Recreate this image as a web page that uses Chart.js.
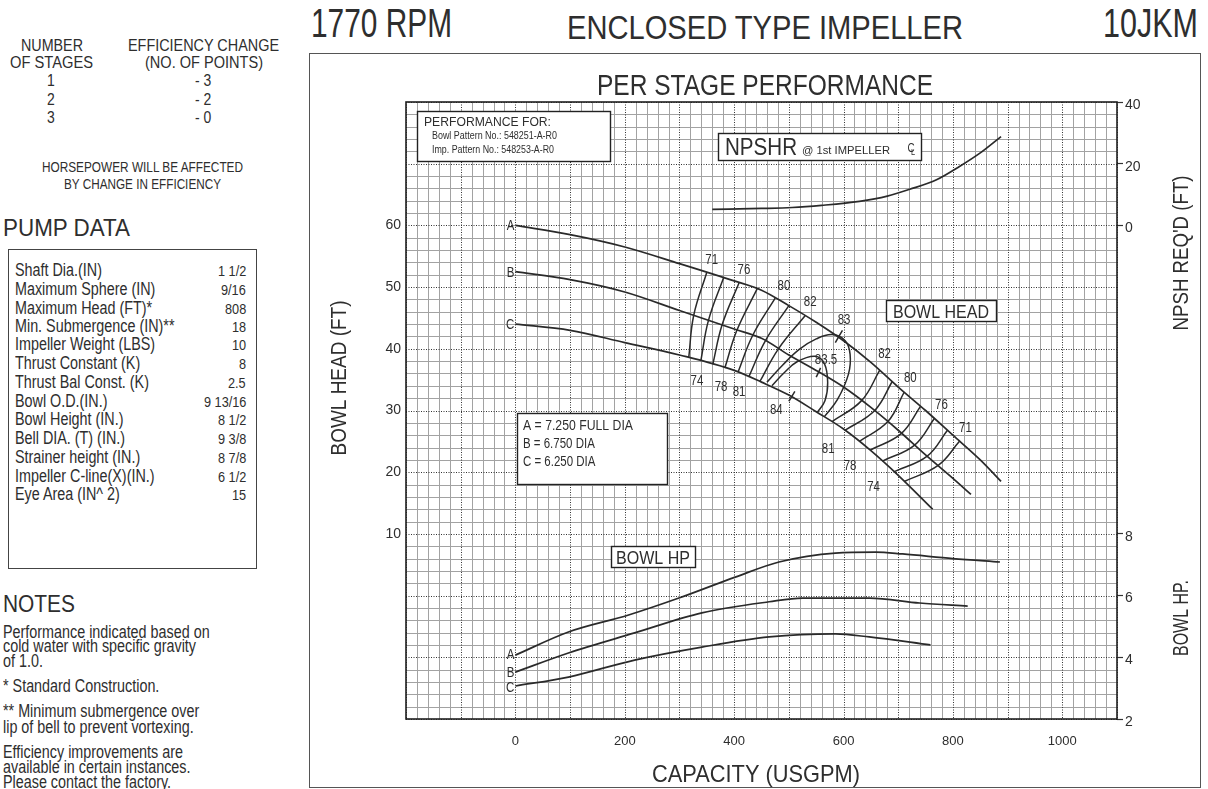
<!DOCTYPE html>
<html><head><meta charset="utf-8">
<script src="https://cdn.jsdelivr.net/npm/chart.js@4.4.1/dist/chart.umd.min.js"></script>
<style>
html,body{margin:0;padding:0;background:#fff;}
body{width:1208px;height:789px;overflow:hidden;position:relative;}
.t{position:absolute;white-space:nowrap;color:#2e2e2e;font-family:'Liberation Sans',Arial,sans-serif;line-height:1;transform-origin:0 50%;}
#frame{position:absolute;left:309px;top:53px;width:892px;height:735px;border:1.5px solid #555;box-sizing:border-box;}
#pbox{position:absolute;left:8px;top:249px;width:249px;height:320px;border:1.5px solid #444;box-sizing:border-box;}
#cv{position:absolute;left:309px;top:53px;}
</style></head><body>
<div id="frame"></div>
<div id="pbox"></div>

<div class="t" data-x="311" data-y="23" data-s="40" data-w="141">1770 RPM</div>
<div class="t" data-x="567" data-y="27" data-s="33" data-w="396">ENCLOSED TYPE IMPELLER</div>
<div class="t" data-x="1198" data-y="23" data-s="40" data-w="95" data-a="r">10JKM</div>

<div class="t" data-x="52" data-y="45" data-s="17" data-w="62" data-a="c">NUMBER</div>
<div class="t" data-x="51" data-y="62" data-s="17" data-w="83" data-a="c">OF STAGES</div>
<div class="t" data-x="203" data-y="45" data-s="17" data-w="151" data-a="c">EFFICIENCY CHANGE</div>
<div class="t" data-x="204" data-y="62" data-s="17" data-w="118" data-a="c">(NO. OF POINTS)</div>
<div class="t" data-x="51" data-y="80" data-s="17" data-a="c">1</div>
<div class="t" data-x="51" data-y="99" data-s="17" data-a="c">2</div>
<div class="t" data-x="51" data-y="117" data-s="17" data-a="c">3</div>
<div class="t" data-x="203" data-y="80" data-s="17" data-a="c">- 3</div>
<div class="t" data-x="203" data-y="99" data-s="17" data-a="c">- 2</div>
<div class="t" data-x="203" data-y="117" data-s="17" data-a="c">- 0</div>
<div class="t" data-x="142" data-y="167" data-s="14" data-w="201" data-a="c">HORSEPOWER WILL BE AFFECTED</div>
<div class="t" data-x="142" data-y="184" data-s="14" data-w="157" data-a="c">BY CHANGE IN EFFICIENCY</div>

<div class="t" data-x="3" data-y="228" data-s="23" data-w="127">PUMP DATA</div>
<div class="t" data-x="15" data-y="271" data-s="17.5">Shaft Dia.(IN)</div>
<div class="t" data-x="15" data-y="290" data-s="17.5">Maximum Sphere (IN)</div>
<div class="t" data-x="15" data-y="309" data-s="17.5">Maximum Head (FT)*</div>
<div class="t" data-x="15" data-y="327" data-s="17.5">Min. Submergence (IN)**</div>
<div class="t" data-x="15" data-y="345" data-s="17.5">Impeller Weight (LBS)</div>
<div class="t" data-x="15" data-y="364" data-s="17.5">Thrust Constant (K)</div>
<div class="t" data-x="15" data-y="383" data-s="17.5">Thrust Bal Const. (K)</div>
<div class="t" data-x="15" data-y="402" data-s="17.5">Bowl O.D.(IN.)</div>
<div class="t" data-x="15" data-y="420" data-s="17.5">Bowl Height (IN.)</div>
<div class="t" data-x="15" data-y="439" data-s="17.5">Bell DIA. (T) (IN.)</div>
<div class="t" data-x="15" data-y="458" data-s="17.5">Strainer height (IN.)</div>
<div class="t" data-x="15" data-y="477" data-s="17.5">Impeller C-line(X)(IN.)</div>
<div class="t" data-x="15" data-y="495" data-s="17.5">Eye Area (IN^ 2)</div>
<div class="t" data-x="246" data-y="271" data-s="15.5" data-a="r">1 1/2</div>
<div class="t" data-x="246" data-y="290" data-s="15.5" data-a="r">9/16</div>
<div class="t" data-x="246" data-y="309" data-s="15.5" data-a="r">808</div>
<div class="t" data-x="246" data-y="327" data-s="15.5" data-a="r">18</div>
<div class="t" data-x="246" data-y="345" data-s="15.5" data-a="r">10</div>
<div class="t" data-x="246" data-y="364" data-s="15.5" data-a="r">8</div>
<div class="t" data-x="246" data-y="383" data-s="15.5" data-a="r">2.5</div>
<div class="t" data-x="246" data-y="402" data-s="15.5" data-a="r">9 13/16</div>
<div class="t" data-x="246" data-y="420" data-s="15.5" data-a="r">8 1/2</div>
<div class="t" data-x="246" data-y="439" data-s="15.5" data-a="r">9 3/8</div>
<div class="t" data-x="246" data-y="458" data-s="15.5" data-a="r">8 7/8</div>
<div class="t" data-x="246" data-y="477" data-s="15.5" data-a="r">6 1/2</div>
<div class="t" data-x="246" data-y="495" data-s="15.5" data-a="r">15</div>

<div class="t" data-x="3" data-y="604" data-s="23" data-w="72">NOTES</div>
<div class="t" data-x="3" data-y="633" data-s="17.5">Performance indicated based on</div>
<div class="t" data-x="3" data-y="647" data-s="17.5">cold water with specific gravity</div>
<div class="t" data-x="3" data-y="662" data-s="17.5">of 1.0.</div>
<div class="t" data-x="3" data-y="687" data-s="17.5">* Standard Construction.</div>
<div class="t" data-x="3" data-y="712" data-s="17.5">** Minimum submergence over</div>
<div class="t" data-x="3" data-y="728" data-s="17.5">lip of bell to prevent vortexing.</div>
<div class="t" data-x="3" data-y="753" data-s="17.5">Efficiency improvements are</div>
<div class="t" data-x="3" data-y="768" data-s="17.5">available in certain instances.</div>
<div class="t" data-x="3" data-y="783" data-s="17.5">Please contact the factory.</div>

<canvas id="cv" width="891" height="736"></canvas>
<script>
// ---------------- data ----------------
const capTicks  = [0, 200, 400, 600, 800, 1000];
const headTicks = [10, 20, 30, 40, 50, 60];
const npshTicks = [0, 20, 40];
const hpTicks   = [2, 4, 6, 8];

const capA  = [0,100,200,300,400,450,500,550,600,650,700,750,800,850,888];
const headA = [60,58.5,56.5,53.8,51,49.5,47,44.3,41.3,37.8,33.8,30,26,22,18.5];
const capB  = [0,100,200,300,400,450,500,550,600,650,700,750,800,833];
const headB = [52.5,51.2,49.2,46.2,43.2,41.7,39,36.5,33.8,30.5,26.8,22.8,19,16.4];
const capC  = [0,100,200,300,400,450,500,550,600,650,700,763];
const headC = [44,43,41,39,36.5,34.6,32.5,29.8,27,23.5,19.5,14];

const capNpsh = [360,450,506,560,629,680,721,770,812,850,888];
const npshr   = [5.2,5.5,5.8,6.5,7.8,9.5,11.7,14.8,19.1,23.5,28.8];

const capHpA = [0,97,207,299,402,482,585,659,708,800,886];
const hpA    = [4.07,4.82,5.37,5.92,6.6,7.09,7.38,7.41,7.35,7.2,7.09];
const capHpB = [0,97,218,341,464,525,647,739,827];
const hpB    = [3.52,4.14,4.79,5.44,5.8,5.92,5.92,5.76,5.66];
const capHpC = [0,97,218,341,464,585,647,759];
const hpC    = [3.07,3.36,3.91,4.33,4.66,4.76,4.66,4.4];

// efficiency contours: [capacity, head] from curve A through B to C
const eff71L = [[350,52.4],[326,45.4],[317,38.6]];
const eff74L = [[381,51.6],[353,44.6],[339,38.0]];
const eff76L = [[409,50.7],[378,43.9],[361,37.5]];
const eff78L = [[442,49.7],[405,43.0],[383,36.9]];
const eff80L = [[475,48.2],[434,42.2],[407,36.2]];
const eff81L = [[500,47.0],[457,41.3],[427,35.5]];
const eff82L = [[530,45.4],[481,40.0],[447,34.7]];
const eff83  = [[460,34.6],[488,37.3],[519,39.9],[550,41.6],[579,42.3],[603,41.3],[612,39.1],[609,35.9],[589,31.8],[565,29.0]];
const eff835 = [[469,34.0],[490,36.0],[515,37.9],[548,38.8],[565,37.6],[571,34.5],[566,31.6],[552,29.7]];
const eff82R = [[666,36.5],[633,31.6],[579,28.2]];
const eff81R = [[689,34.7],[657,30.0],[603,26.8]];
const eff80R = [[711,33.0],[681,28.2],[629,25.0]];
const eff78R = [[741,30.7],[706,26.3],[649,23.6]];
const eff76R = [[766,28.7],[730,24.4],[671,21.8]];
const eff74R = [[790,26.8],[753,22.6],[693,20.1]];
const eff71R = [[812,25.0],[773,21.1],[711,18.5]];
const effTick83  = [[585,41.0],[598,43.0]];
const effTick835 = [[550,35.4],[558,36.9]];
const effTick84  = [[500,31.5],[511,33.1]];

const effLabelText = ['71','76','80','82','83','74','78','81','84','83.5','82','80','76','71','81','78','74'];
const effLabelCap  = [359,418,491,539,601,332,376,409,477,568,675,722,779,823,572,612,655];
const effLabelHead = [54.5,52.9,50.4,47.7,44.8,34.9,33.9,33.1,30.2,38.3,39.4,35.5,31.0,27.3,24.0,21.1,17.7];

// axis ranges (shared pixel frame)
const capRange  = [-200, 1100];
const headRange = [-20, 80];
const npshRange = [-160, 40];
const hpRange   = [2, 22];

// ---------------- page text fitting (condensed type emulation) ----------------
const NARROW = 0.82;
document.querySelectorAll('.t').forEach(el => {
  const s = +el.dataset.s; el.style.fontSize = s + 'px';
  const w0 = el.getBoundingClientRect().width;
  const w = el.dataset.w ? +el.dataset.w : w0 * NARROW;
  const k = w / w0, a = el.dataset.a || 'l';
  const x = +el.dataset.x, y = +el.dataset.y;
  el.style.left = (a === 'c' ? x - w / 2 : a === 'r' ? x - w : x) + 'px';
  el.style.top = (y - s / 2) + 'px';
  el.style.transform = 'scaleX(' + k + ')';
});

// ---------------- chart ----------------
const OX = 309, OY = 53;
const FN = "'Liberation Sans',Arial,sans-serif";
const INK = '#2e2e2e';
const LINE = '#2a2a2a';

function fitText(ctx, txt, x, cy, size, w, align, family) {
  ctx.save();
  ctx.font = size + 'px ' + (family || FN);
  ctx.fillStyle = INK; ctx.textAlign = 'left'; ctx.textBaseline = 'alphabetic';
  const mw = ctx.measureText(txt).width;
  const k = w ? w / mw : NARROW, tw = mw * k;
  const left = align === 'center' ? x - tw / 2 : align === 'right' ? x - tw : x;
  ctx.translate(left, cy + 0.36 * size); ctx.scale(k, 1);
  ctx.fillText(txt, 0, 0);
  ctx.restore();
}
function vText(ctx, txt, cx, cy, size, w) {
  ctx.save(); ctx.translate(cx, cy); ctx.rotate(-Math.PI / 2);
  fitText(ctx, txt, 0, 0, size, w, 'center'); ctx.restore();
}
function box(ctx, x1, y1, x2, y2) {
  ctx.save(); ctx.fillStyle = '#fff'; ctx.fillRect(x1, y1, x2 - x1, y2 - y1);
  ctx.strokeStyle = '#222'; ctx.lineWidth = 1.4; ctx.strokeRect(x1 + .5, y1 + .5, x2 - x1, y2 - y1); ctx.restore();
}

const paperPlugin = {
  id: 'paper',
  beforeDatasetsDraw(chart) {
    const { ctx, chartArea: a } = chart;
    const x = chart.scales.x, y = chart.scales.y;
    ctx.save();
    ctx.fillStyle = '#fff'; ctx.fillRect(a.left, a.top, a.right - a.left, a.bottom - a.top);
    ctx.lineWidth = 1; ctx.strokeStyle = '#a2a2a2';
    ctx.beginPath();
    for (let q = x.min; q <= x.max + 1e-6; q += 20) {
      if (q % 100 === 0) continue;
      const px = Math.round(x.getPixelForValue(q)) + .5; ctx.moveTo(px, a.top); ctx.lineTo(px, a.bottom);
    }
    for (let h = y.min; h <= y.max + 1e-6; h += 2) {
      if (h % 10 === 0) continue;
      const py = Math.round(y.getPixelForValue(h)) + .5; ctx.moveTo(a.left, py); ctx.lineTo(a.right, py);
    }
    ctx.stroke();
    ctx.strokeStyle = '#333'; ctx.setLineDash([1, 1.5]);
    ctx.beginPath();
    for (let q = x.min; q <= x.max + 1e-6; q += 100) {
      const px = Math.round(x.getPixelForValue(q)) + .5; ctx.moveTo(px, a.top); ctx.lineTo(px, a.bottom);
    }
    for (let h = y.min; h <= y.max + 1e-6; h += 10) {
      const py = Math.round(y.getPixelForValue(h)) + .5; ctx.moveTo(a.left, py); ctx.lineTo(a.right, py);
    }
    ctx.stroke();
    ctx.restore();

    ctx.save(); ctx.translate(-OX, -OY);
    box(ctx, 417, 111, 610, 161);
    fitText(ctx, 'PERFORMANCE FOR:', 424, 121, 13, 127);
    fitText(ctx, 'Bowl Pattern No.: 548251-A-R0', 432, 135, 11, 125);
    fitText(ctx, 'Imp. Pattern No.: 548253-A-R0', 432, 149, 11, 122);
    box(ctx, 718, 133, 921, 160);
    fitText(ctx, 'NPSHR', 725, 146, 24, 72);
    fitText(ctx, '@ 1st IMPELLER', 802, 150, 11.5, 88);
    fitText(ctx, 'C', 911, 148, 12, 0, 'center');
    fitText(ctx, 'L', 913, 152, 9, 0, 'center');
    box(ctx, 886, 300, 996, 321);
    fitText(ctx, 'BOWL HEAD', 941, 311, 19, 96, 'center');
    box(ctx, 611, 546, 695, 567);
    fitText(ctx, 'BOWL HP', 653, 557, 19, 74, 'center');
    box(ctx, 517, 413, 667, 484);
    fitText(ctx, 'A = 7.250 FULL DIA', 523, 425, 14, 110);
    fitText(ctx, 'B = 6.750 DIA', 523, 443, 14);
    fitText(ctx, 'C = 6.250 DIA', 523, 461, 14);
    ctx.restore();
  },
  afterDatasetsDraw(chart) {
    const { ctx, chartArea: a } = chart;
    const x = chart.scales.x, y = chart.scales.y, yH = chart.scales.yH;
    ctx.save();
    ctx.strokeStyle = '#1e1e1e'; ctx.lineWidth = 1.6;
    ctx.strokeRect(a.left, a.top, a.right - a.left, a.bottom - a.top);
    effLabelText.forEach((t, i) => {
      fitText(ctx, t, x.getPixelForValue(effLabelCap[i]), y.getPixelForValue(effLabelHead[i]), 14, 0, 'center');
    });
    const x0 = x.getPixelForValue(0) - 1;
    fitText(ctx, 'A', x0, y.getPixelForValue(headA[0]), 14, 0, 'right');
    fitText(ctx, 'B', x0, y.getPixelForValue(headB[0]), 14, 0, 'right');
    fitText(ctx, 'C', x0, y.getPixelForValue(headC[0]), 14, 0, 'right');
    fitText(ctx, 'A', x0, yH.getPixelForValue(hpA[0]) - 1, 14, 0, 'right');
    fitText(ctx, 'B', x0, yH.getPixelForValue(hpB[0]), 14, 0, 'right');
    fitText(ctx, 'C', x0, yH.getPixelForValue(hpC[0]) + 1, 14, 0, 'right');
    ctx.restore();
  },
  afterDraw(chart) {
    const ctx = chart.ctx;
    ctx.save(); ctx.translate(-OX, -OY);
    fitText(ctx, 'PER STAGE PERFORMANCE', 765, 85, 29, 336, 'center');
    fitText(ctx, 'CAPACITY (USGPM)', 756, 773, 24, 208, 'center');
    vText(ctx, 'BOWL HEAD (FT)', 338, 378, 22, 155);
    vText(ctx, "NPSH REQ'D (FT)", 1180, 253, 22, 155);
    vText(ctx, 'BOWL HP.', 1180, 618, 22, 76);
    ctx.restore();
  }
};

const xy = (xs, ys) => xs.map((v, i) => ({ x: v, y: ys[i] }));
const pr = arr => arr.map(p => ({ x: p[0], y: p[1] }));
const mainLine = (data, axis) => ({ data, yAxisID: axis, borderColor: LINE, borderWidth: 1.7, pointRadius: 0, fill: false, tension: 0.4, cubicInterpolationMode: 'monotone' });
const contour = data => ({ data: pr(data), yAxisID: 'y', borderColor: LINE, borderWidth: 1.5, pointRadius: 0, fill: false, tension: 0.4 });

const datasets = [
  mainLine(xy(capA, headA), 'y'),
  mainLine(xy(capB, headB), 'y'),
  mainLine(xy(capC, headC), 'y'),
  mainLine(xy(capNpsh, npshr), 'yN'),
  mainLine(xy(capHpA, hpA), 'yH'),
  mainLine(xy(capHpB, hpB), 'yH'),
  mainLine(xy(capHpC, hpC), 'yH'),
  ...[eff71L, eff74L, eff76L, eff78L, eff80L, eff81L, eff82L, eff83, eff835,
      eff82R, eff81R, eff80R, eff78R, eff76R, eff74R, eff71R,
      effTick83, effTick835, effTick84].map(contour)
];

// right-hand axis carries both the NPSH and the bowl HP tick labels
const hpToNpsh = v => npshRange[0] + (v - hpRange[0]) / (hpRange[1] - hpRange[0]) * (npshRange[1] - npshRange[0]);
const rightTicks = npshTicks.map(v => ({ value: v, txt: String(v) }))
  .concat(hpTicks.map(v => ({ value: hpToNpsh(v), txt: String(v) })));

new Chart(document.getElementById('cv'), {
  type: 'line',
  data: { datasets },
  plugins: [paperPlugin],
  options: {
    responsive: false, animation: false, devicePixelRatio: 1,
    layout: { padding: { top: 49, left: 0, right: 0, bottom: 0 } },
    plugins: { legend: { display: false }, tooltip: { enabled: false } },
    scales: {
      x: {
        type: 'linear', min: capRange[0], max: capRange[1],
        afterBuildTicks: s => { s.ticks = capTicks.map(v => ({ value: v })); },
        afterFit: s => { s.height = 70; },
        grid: { display: false, drawTicks: false }, border: { display: false },
        ticks: { font: { family: FN, size: 13 }, color: INK, padding: 15, maxRotation: 0, autoSkip: false, callback: v => String(v) }
      },
      y: {
        type: 'linear', position: 'left', min: headRange[0], max: headRange[1],
        afterBuildTicks: s => { s.ticks = headTicks.map(v => ({ value: v })); },
        afterFit: s => { s.width = 97; },
        grid: { display: false, drawTicks: false }, border: { display: false },
        ticks: { font: { family: FN, size: 14 }, color: INK, padding: 5, callback: v => String(v) }
      },
      yH: {
        type: 'linear', display: false, min: hpRange[0], max: hpRange[1]
      },
      yN: {
        type: 'linear', position: 'right', min: npshRange[0], max: npshRange[1],
        afterBuildTicks: s => { s.ticks = rightTicks.map(t => ({ value: t.value, txt: t.txt })); },
        afterFit: s => { s.width = 83; },
        grid: { display: true, drawOnChartArea: false, drawTicks: true, tickLength: 6, tickColor: '#333', tickWidth: 1.2 },
        border: { display: false },
        ticks: { font: { family: FN, size: 14 }, color: INK, padding: 2, labelOffset: 3, autoSkip: false,
                 callback: (v, i, t) => t[i].txt }
      }
    }
  }
});
</script>
</body></html>
